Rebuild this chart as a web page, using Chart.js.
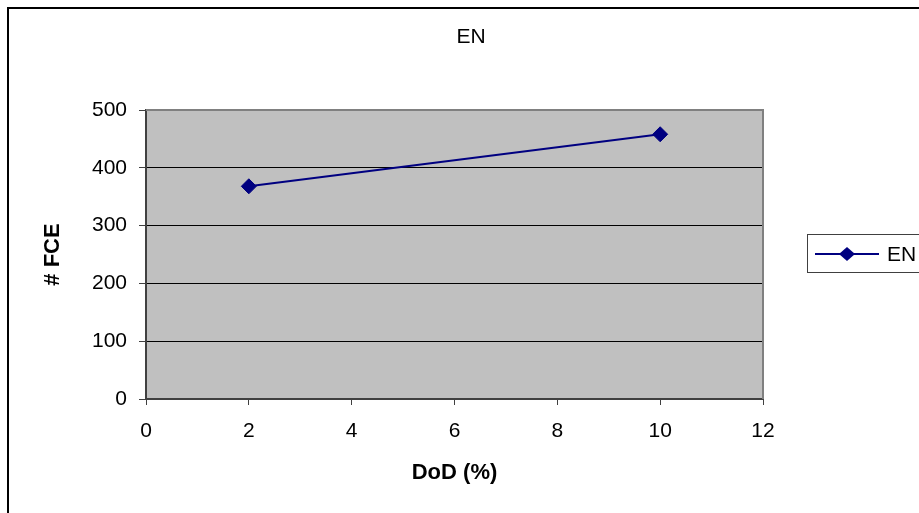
<!DOCTYPE html>
<html>
<head>
<meta charset="utf-8">
<title>EN</title>
<script src="https://cdn.jsdelivr.net/npm/chart.js@4/dist/chart.umd.min.js"></script>
<style>
    html, body { margin: 0; padding: 0; background: #fff; }
    #wrap { width: 919px; height: 513px; position: relative; }
</style>
</head>
<body>
<div id="wrap"><canvas id="chart" width="919" height="513"></canvas></div>
<script>
// Chart data
const seriesName = 'EN';
const dodValues = [2, 10];        // DoD (%)
const fceValues = [368, 458];     // # FCE
const xTicks = [0, 2, 4, 6, 8, 10, 12];
const yTicks = [0, 100, 200, 300, 400, 500];

const navy = '#000080';
const FONT = "'Liberation Sans', Arial, sans-serif";

Chart.defaults.font.family = FONT;
Chart.defaults.color = '#000';

// Plot background, frame, title and legend in the old spreadsheet style
const excelLook = {
    id: 'excelLook',
    beforeDraw(chart) {
        const { ctx, chartArea: a } = chart;
        ctx.save();
        ctx.fillStyle = '#c0c0c0';
        ctx.fillRect(a.left, a.top, a.right - a.left, a.bottom - a.top);
        ctx.restore();
    },
    beforeDatasetsDraw(chart) {
        const { ctx, chartArea: a } = chart;
        ctx.save();
        ctx.strokeStyle = '#808080';
        ctx.lineWidth = 2;
        ctx.beginPath();
        ctx.moveTo(a.left, a.top);
        ctx.lineTo(a.right, a.top);
        ctx.lineTo(a.right, a.bottom);
        ctx.stroke();
        ctx.restore();
    },
    afterDraw(chart) {
        const { ctx } = chart;
        const ds = chart.data.datasets[0];
        ctx.save();

        // outer chart frame (only left/top edges fall inside the picture)
        ctx.strokeStyle = '#000';
        ctx.lineWidth = 2;
        ctx.beginPath();
        ctx.moveTo(8, 513);
        ctx.lineTo(8, 8);
        ctx.lineTo(919, 8);
        ctx.stroke();

        // title
        ctx.fillStyle = '#000';
        ctx.font = '21px ' + FONT;
        ctx.textAlign = 'center';
        ctx.textBaseline = 'middle';
        ctx.fillText(seriesName, 471, 37);

        // legend box
        ctx.strokeStyle = '#404040';
        ctx.lineWidth = 1;
        ctx.strokeRect(807.5, 234.5, 130, 38);
        ctx.strokeStyle = ds.borderColor;
        ctx.lineWidth = 2;
        ctx.beginPath();
        ctx.moveTo(815, 254);
        ctx.lineTo(879, 254);
        ctx.stroke();
        ctx.fillStyle = ds.pointBackgroundColor;
        ctx.beginPath();
        ctx.moveTo(839, 254);
        ctx.lineTo(847, 247);
        ctx.lineTo(855, 254);
        ctx.lineTo(847, 261);
        ctx.closePath();
        ctx.fill();
        ctx.fillStyle = '#000';
        ctx.textAlign = 'left';
        ctx.fillText(ds.label, 887, 255);

        ctx.restore();
    }
};

new Chart(document.getElementById('chart'), {
    type: 'line',
    data: {
        datasets: [{
            label: seriesName,
            data: dodValues.map((x, i) => ({ x, y: fceValues[i] })),
            borderColor: navy,
            borderWidth: 2,
            backgroundColor: navy,
            pointStyle: 'rectRot',
            pointRadius: 7.5,
            pointBackgroundColor: navy,
            pointBorderColor: navy,
            pointBorderWidth: 1,
            tension: 0
        }]
    },
    options: {
        responsive: false,
        animation: false,
        layout: { padding: { top: 110, right: 156, left: 0, bottom: 0 } },
        plugins: {
            legend: { display: false },
            title: { display: false },
            tooltip: { enabled: false }
        },
        scales: {
            x: {
                type: 'linear',
                min: 0,
                max: 12,
                afterFit: (scale) => { scale.height = 114; },
                afterBuildTicks: (scale) => { scale.ticks = xTicks.map(v => ({ value: v })); },
                ticks: { font: { size: 21 }, color: '#000', padding: 14 },
                grid: {
                    drawOnChartArea: false,
                    drawTicks: true,
                    tickLength: 6,
                    tickColor: '#404040'
                },
                border: { color: '#404040', width: 2 },
                title: {
                    display: true,
                    text: 'DoD (%)',
                    font: { size: 22, weight: 'bold' },
                    color: '#000',
                    padding: { top: 0, bottom: 27 }
                }
            },
            y: {
                min: 0,
                max: 500,
                afterFit: (scale) => { scale.width = 146; },
                afterBuildTicks: (scale) => { scale.ticks = yTicks.map(v => ({ value: v })); },
                ticks: { font: { size: 21 }, color: '#000', padding: 12 },
                grid: {
                    color: (c) => (c.tick && c.tick.value === 500 ? '#808080' : '#000'),
                    lineWidth: 1,
                    tickLength: 7,
                    tickColor: '#404040'
                },
                border: { color: '#404040', width: 2 },
                title: {
                    display: true,
                    text: '# FCE',
                    font: { size: 22, weight: 'bold' },
                    color: '#000',
                    padding: { top: 40, bottom: 0 }
                }
            }
        }
    },
    plugins: [excelLook]
});
</script>
</body>
</html>
